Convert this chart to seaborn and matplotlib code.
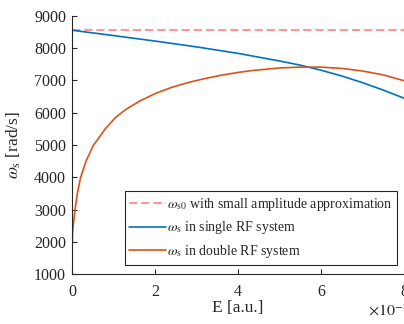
import numpy as np
import pandas as pd
import matplotlib
matplotlib.use("Agg")
import matplotlib.pyplot as plt
import seaborn as sns

# ---- data, E in units of 1e-8 ----
E_single = [0, 1, 2, 3, 4, 5, 5.5, 6, 6.5, 7, 7.5, 8]
w_single = [8550, 8385, 8215, 8035, 7835, 7600, 7470, 7315, 7135, 6930, 6700, 6450]

E_double = [0, 0.005, 0.02, 0.065, 0.12, 0.2, 0.33, 0.51, 0.6, 0.8, 1.04, 1.29,
            1.61, 2.01, 2.41, 2.81, 3.21, 3.61, 4.02, 4.34, 5.0, 5.5, 6.0, 6.5,
            7.0, 7.5, 8.0]
w_double = [2000, 2250, 2500, 3000, 3500, 4000, 4500, 5000, 5150, 5510, 5850, 6100,
            6350, 6600, 6790, 6940, 7060, 7165, 7250, 7305, 7385, 7410, 7410, 7370,
            7290, 7170, 6990]

E_s0 = [0, 8]
w_s0 = [8550, 8550]

x_ticks = [0, 2, 4, 6, 8]
y_ticks = [1000, 2000, 3000, 4000, 5000, 6000, 7000, 8000, 9000]

labels = [r'$\omega_{\rm s0}$ with small amplitude approximation',
          r'$\omega_{\rm s}$ in single RF system',
          r'$\omega_{\rm s}$ in double RF system']
colors = ['#FF8080', '#0072BD', '#D95319']

sns.set_style("ticks")
plt.rcParams['font.family'] = ['Liberation Serif', 'DejaVu Serif']
plt.rcParams['mathtext.fontset'] = 'stix'

fig = plt.figure(figsize=(4.04, 3.24), dpi=100)
ax = fig.add_axes([0.179, 0.153, 0.821, 0.7985])

df_s0 = pd.DataFrame({'E': E_s0, 'w': w_s0})
df_single = pd.DataFrame({'E': E_single, 'w': w_single})
df_double = pd.DataFrame({'E': E_double, 'w': w_double})

sns.lineplot(data=df_s0, x='E', y='w', ax=ax, color=colors[0], lw=1.2,
             label=labels[0], estimator=None, sort=False)
ax.lines[-1].set_dashes((5, 2.3))
sns.lineplot(data=df_single, x='E', y='w', ax=ax, color=colors[1], lw=1.2,
             label=labels[1], estimator=None, sort=False)
sns.lineplot(data=df_double, x='E', y='w', ax=ax, color=colors[2], lw=1.2,
             label=labels[2], estimator=None, sort=False)

ax.set_xlim(0, 8)
ax.set_ylim(1000, 9000)
ax.set_xticks(x_ticks)
ax.set_yticks(y_ticks)
ax.set_xticklabels([str(t) for t in x_ticks])
ax.set_yticklabels([str(t) for t in y_ticks])

for s in ['top', 'right']:
    ax.spines[s].set_visible(False)
for s in ['left', 'bottom']:
    ax.spines[s].set_color('#262626')
    ax.spines[s].set_linewidth(0.8)

ax.tick_params(axis='both', direction='in', length=3.5, width=0.8,
               color='#262626', labelcolor='#262626', labelsize=11.5)
ax.tick_params(axis='x', pad=7)
ax.tick_params(axis='y', pad=4.5)

ax.set_xlabel('E [a.u.]', fontsize=12.5, color='#262626')
ax.set_ylabel(r'$\omega_{\rm s}$ [rad/s]', fontsize=12.5, color='#262626')
ax.xaxis.set_label_coords(0.5, -0.1)
ax.yaxis.set_label_coords(-0.15, 0.5)

fig.text(368 / 404, 1 - 311 / 324, r'$\times10^{-8}$', fontsize=11.5,
         color='#262626', ha='left', va='center')

leg = ax.legend(loc='lower right', bbox_to_anchor=(0.98, 0.038), fontsize=10,
                frameon=True, fancybox=False, framealpha=1, edgecolor='#262626',
                handlelength=2.6, handletextpad=0.1, borderpad=0.35,
                labelspacing=0.45, borderaxespad=0)
leg.get_frame().set_linewidth(0.8)
leg.legend_handles[0].set_dashes((5, 2.3))

fig.savefig('out.png', dpi=100)
